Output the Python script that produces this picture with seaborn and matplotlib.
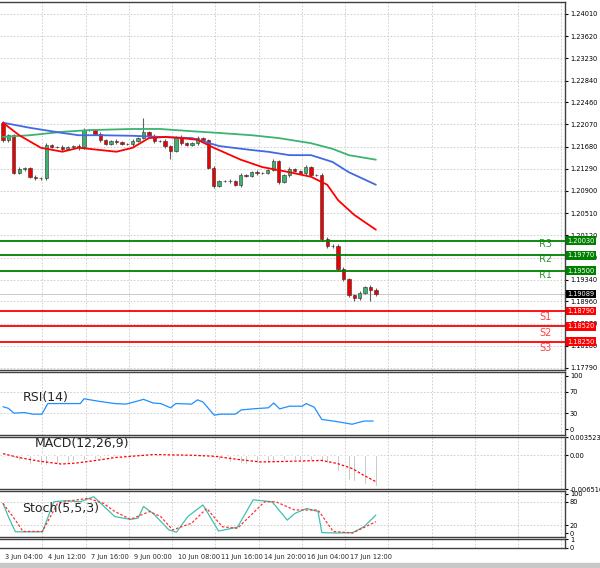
import matplotlib
matplotlib.use("Agg")
import matplotlib.pyplot as plt
import matplotlib.transforms as mtrans
import seaborn as sns
import pandas as pd
import numpy as np

# ---- price data (4H candles) ----
first_open = 1.22095
closes = [1.21796, 1.21884, 1.21216, 1.21287, 1.21304, 1.21146, 1.21129, 1.21129, 1.21708, 1.21673,
          1.21673, 1.21638, 1.21673, 1.21691, 1.21673, 1.21972, 1.21972, 1.21902, 1.21796, 1.21726,
          1.21779, 1.21761, 1.21726, 1.21726, 1.21779, 1.21831, 1.21937, 1.21866, 1.21779, 1.21779,
          1.21691, 1.21603, 1.21849, 1.21743, 1.21708, 1.21743, 1.21831, 1.21796, 1.21304, 1.20988,
          1.21076, 1.21076, 1.21076, 1.21006, 1.21181, 1.21164, 1.21234, 1.21216, 1.21216, 1.21269,
          1.21427, 1.21058, 1.21181, 1.21287, 1.21252, 1.21216, 1.21322, 1.21181, 1.21181, 1.20057,
          1.19934, 1.19934, 1.19530, 1.19354, 1.19073, 1.19020, 1.19108, 1.19213, 1.19161, 1.19089]
wick_hi = [0.0003, 0.0002, 0.0002, 0.0003, 0.0002, 0.0002, 0.0003, 0.0002, 0.0003, 0.0002,
           0.0002, 0.0003, 0.0002, 0.0002, 0.0003, 0.0003, 0.0002, 0.0002, 0.0003, 0.0002,
           0.0002, 0.0003, 0.0002, 0.0002, 0.0003, 0.0002, 0.0024, 0.0002, 0.0003, 0.0002,
           0.0003, 0.0002, 0.0002, 0.0003, 0.0002, 0.0002, 0.0003, 0.0002, 0.0002, 0.0003,
           0.0002, 0.0002, 0.0003, 0.0002, 0.0003, 0.0002, 0.0002, 0.0003, 0.0002, 0.0002,
           0.0004, 0.0002, 0.0002, 0.0003, 0.0002, 0.0002, 0.0003, 0.0002, 0.0002, 0.0003,
           0.0004, 0.0003, 0.0004, 0.0003, 0.0002, 0.0002, 0.0003, 0.0002, 0.0003, 0.0003]
wick_lo = [0.0003, 0.0003, 0.0002, 0.0002, 0.0003, 0.0002, 0.0004, 0.0003, 0.0003, 0.0002,
           0.0002, 0.0003, 0.0002, 0.0002, 0.0006, 0.0004, 0.0002, 0.0002, 0.0003, 0.0002,
           0.0002, 0.0003, 0.0002, 0.0002, 0.0003, 0.0002, 0.0002, 0.0002, 0.0003, 0.0002,
           0.0003, 0.0014, 0.0002, 0.0003, 0.0002, 0.0002, 0.0003, 0.0002, 0.0002, 0.0004,
           0.0002, 0.0002, 0.0003, 0.0002, 0.0003, 0.0002, 0.0002, 0.0003, 0.0002, 0.0002,
           0.0002, 0.0003, 0.0002, 0.0003, 0.0002, 0.0002, 0.0003, 0.0002, 0.0002, 0.0003,
           0.0004, 0.0003, 0.0004, 0.0004, 0.0004, 0.0005, 0.0003, 0.0002, 0.0020, 0.0003]

ma_red_x = [0, 3, 7, 11, 14, 18, 21, 24, 27, 30, 33, 36, 39, 44, 48, 53, 57, 60, 62, 65, 69]
ma_red = [1.2210, 1.2188, 1.2166, 1.2159, 1.2166, 1.2162, 1.2159, 1.2166, 1.2183, 1.2185, 1.2183,
          1.2180, 1.2166, 1.2145, 1.2132, 1.2123, 1.2115, 1.2101, 1.2074, 1.2048, 1.2022]
ma_blue_x = [0, 5, 11, 14, 18, 24, 29, 35, 40, 46, 49, 53, 57, 61, 64, 69]
ma_blue = [1.2210, 1.2201, 1.2192, 1.2188, 1.2188, 1.2187, 1.2185, 1.2183, 1.2169, 1.2162, 1.2159,
           1.2153, 1.2153, 1.2141, 1.2123, 1.2101]
ma_green_x = [0, 5, 11, 16, 24, 29, 35, 40, 46, 51, 57, 61, 64, 69]
ma_green = [1.2185, 1.2188, 1.2194, 1.2197, 1.2199, 1.2199, 1.2195, 1.2192, 1.2188, 1.2183, 1.2174,
            1.2164, 1.2153, 1.2145]

resist = {"R1": 1.1950, "R2": 1.1977, "R3": 1.2003}
support = {"S1": 1.1879, "S2": 1.1852, "S3": 1.1825}
last_price = 1.19089
price_ticks = [1.24010, 1.23620, 1.23230, 1.22840, 1.22460, 1.22070, 1.21680, 1.21290, 1.20900,
               1.20510, 1.20120, 1.19730, 1.19340, 1.18960, 1.18570, 1.18180, 1.17790]

# ---- indicators ----
rsi_x = [0, 1, 2, 4, 5.5, 7.2, 8.3, 10, 14.3, 15, 17.9, 20.7, 22.8, 25, 26, 27.8, 29.2, 31, 32,
         34.9, 36, 37, 39.1, 40.2, 43, 44.1, 46.2, 49.1, 50.1, 51.2, 53, 55.4, 56.1, 57.6, 59,
         61.8, 64.6, 66.8, 68.5]
rsi = [42, 39, 30, 31, 28, 28, 48, 48, 48, 57, 52, 48, 47, 53, 56, 49, 48, 40, 48, 47, 55, 51,
       26, 28, 28, 36, 38, 40, 49, 38, 43, 43, 48, 41, 18, 14, 9, 15, 15]

macd_hist = [-0.0003, -0.00045, -0.0006, -0.0010, -0.0013, -0.0016, -0.0019, -0.0019, -0.0019, -0.0017,
             -0.0016, -0.0015, -0.0013, -0.0012, -0.0011, -0.0010, -0.0008, -0.0007, -0.0006, -0.00045,
             -0.0003, -0.0002, -0.0002, -0.0001, -0.0001, -0.0001, -0.0001, -0.0001, -0.0001, -0.0001,
             -0.0001, -0.0001, -0.0001, -0.0001, -0.0001, -0.0001, -0.0001, -0.0002, -0.0003, -0.0006,
             -0.0009, -0.0011, -0.0013, -0.0014, -0.0015, -0.0016, -0.0016, -0.0015, -0.0015, -0.0014,
             -0.0012, -0.0011, -0.0010, -0.0009, -0.0009, -0.0009, -0.0009, -0.0010, -0.0011, -0.0013,
             -0.0015, -0.0020, -0.0030, -0.0045, -0.0048, -0.0050, -0.0054, -0.0056, -0.0058, -0.0060]
macd_sig_x = [0, 3, 6.5, 10.8, 13.6, 17.2, 20.7, 27.8, 34.9, 39.2, 43.4, 47.7, 51.9, 59, 61.9, 64.7, 66.8, 69]
macd_sig = [0.0003, -0.00045, -0.0011, -0.0017, -0.0015, -0.0010, -0.00045, 0.00013, 0.0, -0.0002,
            -0.0008, -0.0013, -0.0012, -0.0010, -0.0016, -0.0026, -0.0039, -0.0051]

stoch_x = [0, 1, 2.3, 7.3, 9.4, 11.5, 14.3, 16.8, 20.7, 23.6, 25, 26, 27.8, 30.7, 32.1, 34.2, 37,
           39.9, 43.4, 46.3, 49.8, 52.6, 54, 56.2, 58.3, 59, 61.9, 64.7, 66.8, 69]
stoch_k = [76, 42, 3, 3, 80, 83, 80, 93, 42, 35, 38, 68, 50, 8, 2, 42, 72, 5, 15, 85, 80, 33, 50,
           63, 55, 1, 0, 1, 16, 46]
stoch_sig_x = [0, 2.3, 3.7, 7.3, 10.1, 12.2, 15.8, 18.6, 20.7, 23.6, 27.1, 29.2, 31.4, 34.9, 37.7,
               40.6, 43.4, 48.4, 50.5, 54, 58.3, 61.1, 64.7, 69]
stoch_d = [76, 33, 4, 4, 76, 82, 89, 76, 55, 35, 55, 42, 8, 25, 63, 16, 12, 80, 80, 59, 59, 4, 0, 29]

tick_idx = [0, 8, 16, 24, 32, 40, 48, 56, 64]
tick_labels = ["3 Jun 04:00", "4 Jun 12:00", "7 Jun 16:00", "9 Jun 00:00", "10 Jun 08:00",
               "11 Jun 16:00", "14 Jun 20:00", "16 Jun 04:00", "17 Jun 12:00"]

# ---- layout ----
W, H = 600, 568
XR = 565
XMIN, XMAX = -0.55, 104
FS = 4.8


def panel(top, bottom):
    return fig.add_axes([0, (H - bottom) / H, XR / W, (bottom - top) / H])


def style(ax, yticks, ylabels, grid_y=True):
    ax.set_xlim(XMIN, XMAX)
    ax.yaxis.tick_right()
    ax.set_yticks(yticks)
    ax.set_yticklabels(ylabels, fontsize=FS)
    ax.tick_params(axis="y", length=2, pad=1.5, colors="black")
    ax.set_xticks([t + 7.3 for t in tick_idx] + [71.3 + 8 * k for k in range(1, 5)])
    ax.tick_params(axis="x", length=0, labelbottom=False)
    ax.grid(True, axis="x", color="#c8c8c8", linestyle=(0, (2, 2)), linewidth=0.6)
    if grid_y:
        ax.grid(True, axis="y", color="#c8c8c8", linestyle=(0, (2, 2)), linewidth=0.6)
    ax.set_axisbelow(True)
    for s in ax.spines.values():
        s.set_color("#404040")
        s.set_linewidth(1.0)
    ax.spines["left"].set_visible(False)
    ax.set_ylabel("")
    ax.set_xlabel("")


sns.set_style("white")
fig = plt.figure(figsize=(W / 100, H / 100), dpi=100)

# main price panel
ax = panel(2, 370)
ppx = (368 - 14) / (price_ticks[0] - price_ticks[-1])
ax.set_ylim(price_ticks[-1] - 2 / ppx, price_ticks[0] + 12 / ppx)
style(ax, price_ticks, [f"{t:.5f}" for t in price_ticks])

opens = [first_open] + closes[:-1]
df = pd.DataFrame({"o": opens, "c": closes, "wh": wick_hi, "wl": wick_lo})
df["i"] = np.arange(len(df))
df["hi"] = df[["o", "c"]].max(axis=1) + df["wh"]
df["lo"] = df[["o", "c"]].min(axis=1) - df["wl"]
ax.vlines(df["i"], df["lo"], df["hi"], color="#606060", linewidth=0.8, zorder=2)
up = df["c"] >= df["o"]
body = (df["c"] - df["o"]).abs().clip(lower=0.00004)
ax.bar(df["i"][up], body[up], bottom=df["o"][up], width=0.62, color="#3cb371",
       edgecolor="#303030", linewidth=0.4, zorder=3)
ax.bar(df["i"][~up], body[~up], bottom=df["c"][~up], width=0.62, color="#ee0000",
       edgecolor="#303030", linewidth=0.4, zorder=3)

sns.lineplot(x=ma_green_x, y=ma_green, ax=ax, color="#3cb371", linewidth=1.3, zorder=4)
sns.lineplot(x=ma_blue_x, y=ma_blue, ax=ax, color="#4169e1", linewidth=1.3, zorder=4)
sns.lineplot(x=ma_red_x, y=ma_red, ax=ax, color="#ff0000", linewidth=1.3, zorder=4)

ax.axhline(last_price, color="#c0c0c0", linewidth=0.6, zorder=1)
tr = mtrans.blended_transform_factory(ax.transAxes, ax.transData)
lbl_x = 100.4
box = dict(boxstyle="square,pad=0.2", ec="none")
for name, val in resist.items():
    ax.axhline(val, color="#008000", linewidth=1.3, zorder=5)
    ax.text(lbl_x, val - 0.0007, name, color="#2e9b2e", fontsize=7, ha="center", va="center")
    ax.text(1.004, val, f"{val:.5f}", transform=tr, fontsize=FS, color="white", va="center",
            ha="left", bbox=dict(box, fc="#008000"), clip_on=False, zorder=10)
for name, val in support.items():
    ax.axhline(val, color="#ff0000", linewidth=1.3, zorder=5)
    ax.text(lbl_x, val - 0.0011, name, color="#ff4040", fontsize=7, ha="center", va="center")
    ax.text(1.004, val, f"{val:.5f}", transform=tr, fontsize=FS, color="white", va="center",
            ha="left", bbox=dict(box, fc="#ff0000"), clip_on=False, zorder=10)
ax.text(1.004, last_price, f"{last_price:.5f}", transform=tr, fontsize=FS, color="white",
        va="center", ha="left", bbox=dict(box, fc="black"), clip_on=False, zorder=10)

# RSI panel
ax2 = panel(372, 435)
k = (429 - 376) / 100
ax2.set_ylim(-(435 - 429) / k, 100 + (376 - 372) / k)
style(ax2, [100, 70, 30, 0], ["100", "70", "30", "0"], grid_y=False)
for lv in [70, 30]:
    ax2.axhline(lv, color="#c8c8c8", linestyle=(0, (2, 2)), linewidth=0.6, zorder=0)
sns.lineplot(x=rsi_x, y=rsi, ax=ax2, color="#1e90ff", linewidth=0.9)
ax2.text(3.6, 60, "RSI(14)", fontsize=9, va="center")

# MACD panel
ax3 = panel(437, 489)
ax3.set_ylim(-0.006516, 0.003523)
style(ax3, [0.003523, 0.0, -0.006516], ["0.003523", "0.00", "-0.006516"], grid_y=False)
ax3.axhline(0, color="#c8c8c8", linestyle=(0, (2, 2)), linewidth=0.6, zorder=0)
ax3.bar(np.arange(len(macd_hist)), macd_hist, width=0.3, color="#a8a8a8")
sns.lineplot(x=macd_sig_x, y=macd_sig, ax=ax3, color="#ff0000", linewidth=0.9, linestyle=(0, (2, 1.5)))
ax3.text(5.8, 0.0023, "MACD(12,26,9)", fontsize=9, va="center")

# Stochastic panel
ax4 = panel(491, 537)
k = (533 - 494) / 100
ax4.set_ylim(-(537 - 533) / k, 100 + (494 - 491) / k)
style(ax4, [100, 80, 20, 0], ["100", "80", "20", "0"], grid_y=False)
for lv in [80, 20]:
    ax4.axhline(lv, color="#c8c8c8", linestyle=(0, (2, 2)), linewidth=0.6, zorder=0)
sns.lineplot(x=stoch_x, y=stoch_k, ax=ax4, color="#40c0b0", linewidth=0.9)
sns.lineplot(x=stoch_sig_x, y=stoch_d, ax=ax4, color="#ff3030", linewidth=0.9, linestyle=(0, (2, 1.5)))
ax4.text(3.5, 62, "Stoch(5,5,3)", fontsize=9, va="center")

# empty bottom panel with dates
ax5 = panel(539, 548)
ax5.set_ylim(0, 1)
style(ax5, [1, 0], ["1", "0"], grid_y=False)
for t, lab in zip(tick_idx, tick_labels):
    ax5.text(t + 0.3, -0.7, lab, fontsize=FS, ha="left", va="top", clip_on=False)

fig.patches.append(plt.Rectangle((0, 0), 1, 5 / H, transform=fig.transFigure,
                                 color="#c8c8c8", zorder=0))
fig.savefig("out.png", dpi=100)
